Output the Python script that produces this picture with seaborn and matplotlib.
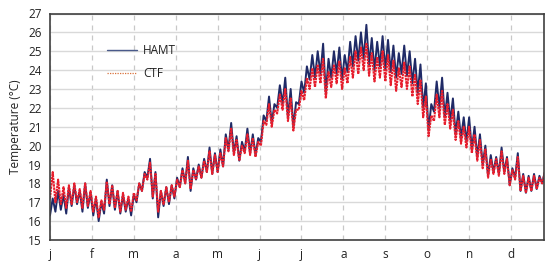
import numpy as np
import pandas as pd
import matplotlib
matplotlib.use("Agg")
import matplotlib.pyplot as plt
import seaborn as sns

# month tick labels (ticks every 31 days)
month_labels = ["j", "f", "m", "a", "m", "j", "j", "a", "s", "o", "n", "d"]

# HAMT: low / high read every 4 days (day 0 .. 364)
hamt_lo = [16.3, 16.5, 16.6, 16.4, 16.8, 16.9, 16.5, 16.7,
           16.3, 16.0, 16.4, 16.8, 16.6, 16.4, 16.5, 16.3,
           17.0, 17.6, 18.3, 17.2, 16.2, 16.8, 16.9, 17.2,
           17.8, 18.0, 17.6, 18.2, 18.3, 18.6, 18.5, 18.6,
           18.9, 19.8, 19.6, 19.2, 19.7, 19.6, 19.5, 20.2,
           21.3, 21.2, 22.0, 22.2, 21.5, 21.0, 22.2,
           22.8, 23.5, 23.6, 23.8, 22.8, 23.6, 23.8, 23.5,
           23.9, 24.2, 24.5, 24.6, 24.3, 24.0, 24.2, 24.0,
           23.9, 23.6, 23.8, 23.7, 23.3, 22.8, 22.0,
           20.8, 21.8, 22.0, 21.5, 21.3, 20.6, 20.4, 20.2,
           19.8, 19.4, 19.0, 18.4, 18.6, 18.5, 18.6, 17.9,
           18.3, 17.6, 17.5, 17.6, 17.7, 18.0]
hamt_hi = [17.2, 17.6, 17.4, 17.8, 17.9, 17.6, 18.0, 17.5,
           17.2, 17.0, 18.2, 17.9, 17.6, 17.4, 17.2, 17.4,
           18.0, 18.6, 19.3, 18.6, 17.6, 17.8, 17.9, 18.3,
           18.8, 19.4, 18.8, 19.0, 19.3, 19.9, 19.6, 19.8,
           20.6, 21.2, 20.5, 20.2, 20.9, 20.6, 20.4, 21.6,
           22.6, 22.2, 23.2, 23.6, 23.0, 22.3, 23.4,
           24.2, 24.8, 25.0, 25.4, 24.6, 25.0, 25.2, 24.8,
           25.5, 25.8, 26.0, 26.4, 25.7, 25.5, 25.8, 25.6,
           25.3, 24.9, 25.3, 25.0, 24.6, 24.3, 23.3,
           22.2, 23.4, 23.6, 22.8, 22.5, 21.8, 21.5, 21.5,
           21.0, 20.6, 20.0, 19.5, 19.4, 19.9, 19.4, 18.8,
           19.6, 18.5, 18.4, 18.5, 18.4, 18.6]

# CTF: low / high read every 4 days (day 0 .. 364)
ctf_lo = [17.2, 17.0, 16.9, 16.7, 16.9, 17.0, 16.7, 16.8,
          16.5, 16.2, 16.6, 16.9, 16.7, 16.5, 16.6, 16.5,
          17.1, 17.6, 18.2, 17.3, 16.5, 16.9, 17.0, 17.3,
          17.8, 18.0, 17.7, 18.2, 18.3, 18.6, 18.5, 18.6,
          18.9, 19.7, 19.5, 19.2, 19.6, 19.5, 19.4, 20.0,
          21.1, 21.0, 21.7, 21.9, 21.3, 20.8, 21.9,
          22.4, 23.0, 23.1, 23.3, 22.5, 23.1, 23.3, 23.0,
          23.3, 23.6, 23.8, 24.0, 23.7, 23.4, 23.6, 23.4,
          23.2, 22.9, 23.1, 23.0, 22.6, 22.2, 21.5,
          20.5, 21.3, 21.5, 21.1, 20.9, 20.3, 20.1, 19.9,
          19.6, 19.2, 18.8, 18.3, 18.5, 18.4, 18.5, 17.9,
          18.2, 17.6, 17.5, 17.6, 17.7, 18.0]
ctf_hi = [18.6, 18.2, 17.8, 17.9, 18.0, 17.7, 18.0, 17.6,
          17.3, 17.1, 18.1, 17.9, 17.6, 17.5, 17.3, 17.5,
          18.0, 18.5, 19.1, 18.5, 17.6, 17.8, 17.9, 18.2,
          18.7, 19.2, 18.7, 18.9, 19.2, 19.7, 19.5, 19.6,
          20.4, 20.9, 20.3, 20.0, 20.6, 20.4, 20.2, 21.3,
          22.2, 21.9, 22.7, 23.0, 22.5, 21.9, 22.9,
          23.6, 24.1, 24.3, 24.6, 23.9, 24.3, 24.5, 24.1,
          24.7, 25.0, 25.2, 25.4, 24.9, 24.7, 25.0, 24.8,
          24.5, 24.1, 24.4, 24.2, 23.8, 23.5, 22.6,
          21.6, 22.7, 22.9, 22.2, 21.9, 21.3, 21.0, 21.0,
          20.6, 20.3, 19.8, 19.3, 19.3, 19.7, 19.3, 18.7,
          19.4, 18.4, 18.3, 18.4, 18.3, 18.6]

step = 4
rows = []
for name, lo, hi in (("HAMT", hamt_lo, hamt_hi), ("CTF", ctf_lo, ctf_hi)):
    for k, (a, b) in enumerate(zip(lo, hi)):
        rows.append((name, k * step, a))
        rows.append((name, k * step + step / 2, b))
df = pd.DataFrame(rows, columns=["series", "day", "temp"])

sns.set_theme(style="white")
plt.rcParams["font.family"] = ["Open Sans", "DejaVu Sans"]

fig = plt.figure(figsize=(5.5, 2.65), dpi=100)
ax = fig.add_axes([50 / 550, 25 / 265, 493.5 / 550, 226.5 / 265])

sns.lineplot(data=df[df.series == "HAMT"], x="day", y="temp", ax=ax,
             color="#1f2a66", linewidth=1.4, label="HAMT", sort=False)
sns.lineplot(data=df[df.series == "CTF"], x="day", y="temp", ax=ax,
             color="#e61e2d", linewidth=1.5, linestyle=(0, (1.2, 0.35)),
             label="CTF", sort=False)

ax.set_xlim(0, 365)
ax.set_ylim(15, 27)
ax.set_yticks(range(15, 28))
ax.set_xticks([31 * i for i in range(12)])
ax.set_xticklabels(month_labels)
ax.tick_params(axis="both", length=0, labelsize=8.5, colors="#222222", pad=6)
ax.set_xlabel("")
ax.set_ylabel("Temperature (°C)", fontsize=8.5, color="#222222", labelpad=4)

ax.grid(axis="y", color="#d9d9d9", linewidth=1.0, linestyle="-")
ax.grid(axis="x", color="#c8c8c8", linewidth=0.9, linestyle=(0, (4, 4)))
ax.set_axisbelow(True)
for s in ax.spines.values():
    s.set_color("#404040")
    s.set_linewidth(1.2)

leg = ax.legend(loc="upper left", bbox_to_anchor=(0.115, 0.865),
                frameon=False, fontsize=8.5, handlelength=2.6,
                labelspacing=0.85, borderpad=0, borderaxespad=0,
                handletextpad=0.5)
leg.get_lines()[0].set_color("#4a5a8a")
leg.get_lines()[0].set_linewidth(1.0)
leg.get_lines()[1].set_color("#d8703a")
leg.get_lines()[1].set_linewidth(0.9)
leg.get_lines()[1].set_linestyle((0, (1, 1)))
for t in leg.get_texts():
    t.set_color("#222222")

fig.savefig("out.png", dpi=100)
